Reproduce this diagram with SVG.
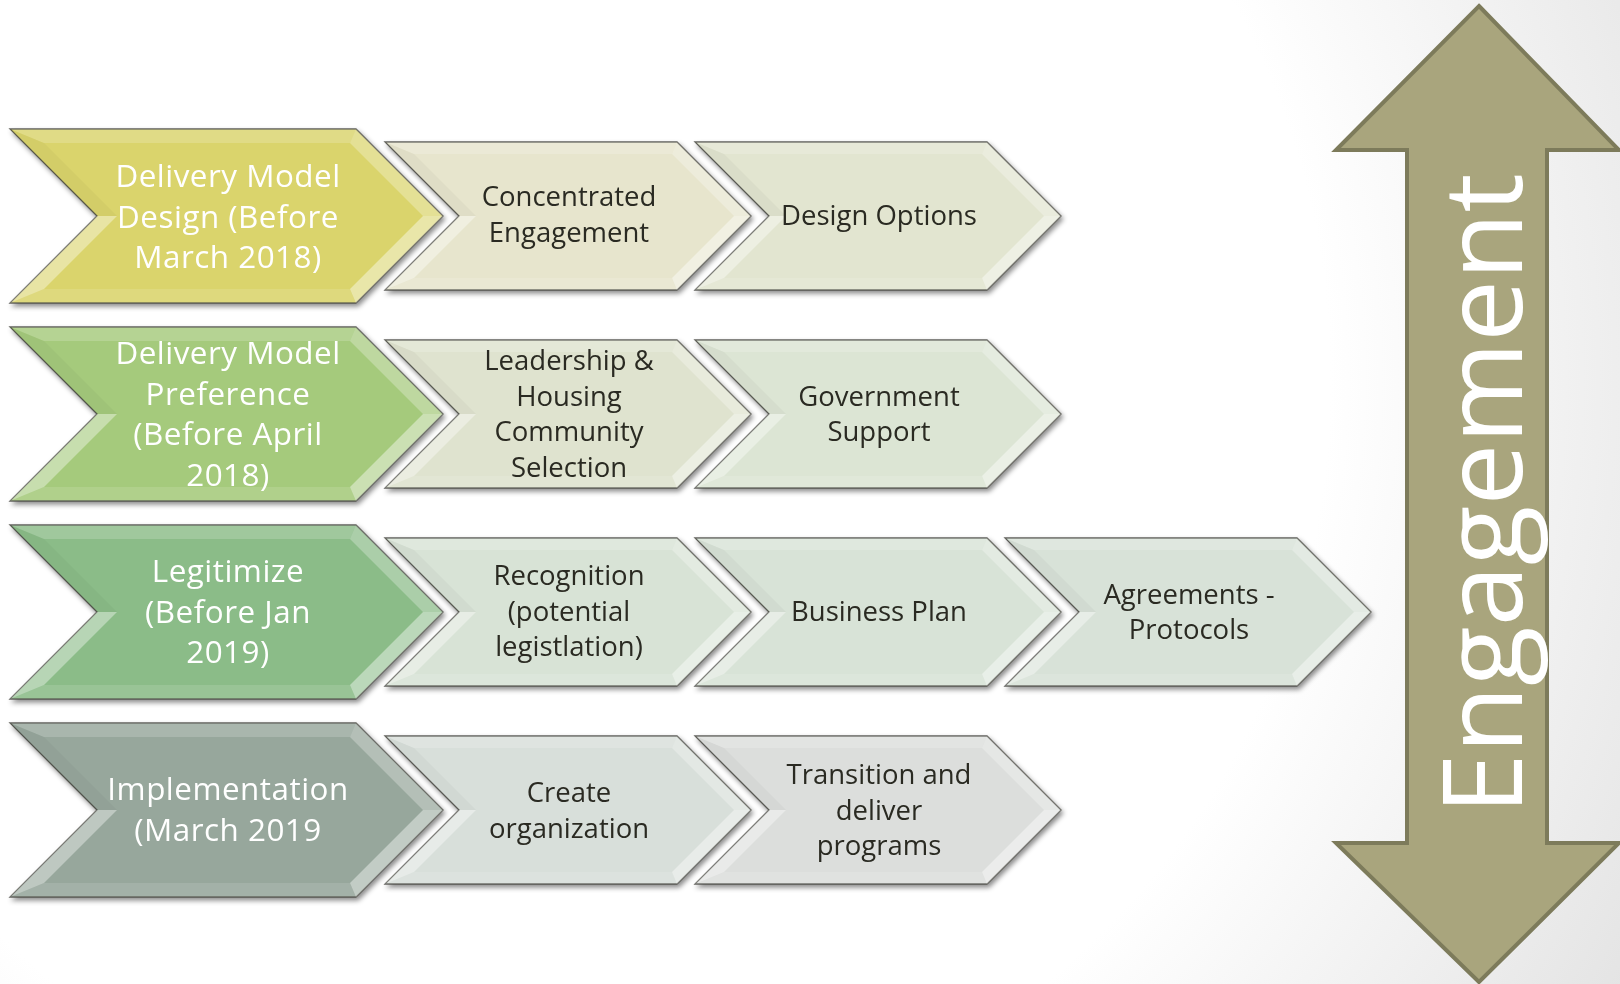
<svg xmlns="http://www.w3.org/2000/svg" xmlns:xlink="http://www.w3.org/1999/xlink" width="1620" height="984" viewBox="0 0 1620 984">
<style>
.lt{font-family:"Open Sans","Liberation Sans",sans-serif;font-size:31.4px;letter-spacing:0.5px;fill:#ffffff;text-anchor:middle}
.st{font-family:"Open Sans","Liberation Sans",sans-serif;font-size:27.5px;fill:#2a2a22;text-anchor:middle}
.et{font-family:"Open Sans","Liberation Sans",sans-serif;font-size:110px;fill:#ffffff;text-anchor:middle}
.base{stroke:#3e3e38;stroke-opacity:.8;stroke-width:1.3}
.ftop{fill:#ffffff;fill-opacity:.18}
.fur{fill:#ffffff;fill-opacity:.28}
.flr{fill:#ffffff;fill-opacity:.42}
.fbot{fill:#ffffff;fill-opacity:.12}
.fll{fill:#ffffff;fill-opacity:.38}
.ful{fill:#000000;fill-opacity:.03}
.chev{filter:url(#sh)}
</style>
<defs>
<radialGradient id="bg" cx="550" cy="380" r="1300" gradientUnits="userSpaceOnUse">
<stop offset="0.6" stop-color="#ffffff"/>
<stop offset="1" stop-color="#e0e0e0"/>
</radialGradient>
<filter id="sh" x="-5%" y="-10%" width="115%" height="125%">
<feDropShadow dx="2" dy="3" stdDeviation="2.5" flood-color="#000" flood-opacity="0.45"/>
</filter>
<g id="chevL">
<polygon class="base" points="0,0 346,0 433,87 346,174 0,174 87,87"/>
<polygon class="ftop" points="0,0 346,0 340,14 34,14"/>
<polygon class="fur" points="346,0 433,87 413,87 340,14"/>
<polygon class="flr" points="433,87 346,174 340,160 413,87"/>
<polygon class="fbot" points="346,174 0,174 34,160 340,160"/>
<polygon class="fll" points="0,174 87,87 107,87 34,160"/>
<polygon class="ful" points="87,87 0,0 34,14 107,87"/>
</g>
<g id="chevS">
<polygon class="base" points="0,0 292,0 366,74 292,148 0,148 74,74"/>
<polygon class="ftop" points="0,0 292,0 287,12 29,12"/>
<polygon class="fur" points="292,0 366,74 349,74 287,12"/>
<polygon class="flr" points="366,74 292,148 287,136 349,74"/>
<polygon class="fbot" points="292,148 0,148 29,136 287,136"/>
<polygon class="fll" points="0,148 74,74 91,74 29,136"/>
<polygon class="ful" points="74,74 0,0 29,12 91,74"/>
</g>
</defs>
<rect width="1620" height="984" fill="url(#bg)"/>

<g id="connectors"></g>

<g id="engagement-arrow">
<polygon points="1479,6 1619,150 1547,150 1547,843 1619,843 1479,982 1336,843 1407,843 1407,150 1336,150" fill="#a9a57d" stroke="#7d7b5b" stroke-width="4" stroke-linejoin="miter"/>
<text class="et" transform="translate(1522,494) rotate(-90)">Engagement</text>
</g>

<!-- Row 1 -->
<g id="stage-design" class="chev">
<use xlink:href="#chevL" href="#chevL" x="10" y="129" fill="#dad46c"/>
<text class="lt" x="228" y="187"><tspan x="228">Delivery Model</tspan><tspan x="228" dy="40.5">Design (Before</tspan><tspan x="228" dy="40.5">March 2018)</tspan></text>
</g>
<g id="concentrated-engagement" class="chev">
<use xlink:href="#chevS" href="#chevS" x="385" y="142" fill="#e7e5cd"/>
<text class="st" x="569" y="206"><tspan x="569">Concentrated</tspan><tspan x="569" dy="36">Engagement</tspan></text>
</g>
<g id="design-options" class="chev">
<use xlink:href="#chevS" href="#chevS" x="695" y="142" fill="#e2e5d0"/>
<text class="st" x="879" y="225">Design Options</text>
</g>

<!-- Row 2 -->
<g id="stage-preference" class="chev">
<use xlink:href="#chevL" href="#chevL" x="10" y="327" fill="#a5ca7c"/>
<text class="lt" x="228" y="364"><tspan x="228">Delivery Model</tspan><tspan x="228" dy="40.5">Preference</tspan><tspan x="228" dy="40.5">(Before April</tspan><tspan x="228" dy="40.5">2018)</tspan></text>
</g>
<g id="leadership-housing" class="chev">
<use xlink:href="#chevS" href="#chevS" x="385" y="340" fill="#dfe3cf"/>
<text class="st" x="569" y="370"><tspan x="569">Leadership &amp;</tspan><tspan x="569" dy="35.5">Housing</tspan><tspan x="569" dy="35.5">Community</tspan><tspan x="569" dy="35.5">Selection</tspan></text>
</g>
<g id="government-support" class="chev">
<use xlink:href="#chevS" href="#chevS" x="695" y="340" fill="#dce5d4"/>
<text class="st" x="879" y="406"><tspan x="879">Government</tspan><tspan x="879" dy="35">Support</tspan></text>
</g>

<!-- Row 3 -->
<g id="stage-legitimize" class="chev">
<use xlink:href="#chevL" href="#chevL" x="10" y="525" fill="#8bbc88"/>
<text class="lt" x="228" y="582"><tspan x="228">Legitimize</tspan><tspan x="228" dy="40.5">(Before Jan</tspan><tspan x="228" dy="40.5">2019)</tspan></text>
</g>
<g id="recognition" class="chev">
<use xlink:href="#chevS" href="#chevS" x="385" y="538" fill="#d8e3d6"/>
<text class="st" x="569" y="585"><tspan x="569">Recognition</tspan><tspan x="569" dy="35.5">(potential</tspan><tspan x="569" dy="35.5">legistlation)</tspan></text>
</g>
<g id="business-plan" class="chev">
<use xlink:href="#chevS" href="#chevS" x="695" y="538" fill="#d8e3d7"/>
<text class="st" x="879" y="621">Business Plan</text>
</g>
<g id="agreements-protocols" class="chev">
<use xlink:href="#chevS" href="#chevS" x="1005" y="538" fill="#d8e2d8"/>
<text class="st" x="1189" y="604"><tspan x="1189">Agreements -</tspan><tspan x="1189" dy="35">Protocols</tspan></text>
</g>

<!-- Row 4 -->
<g id="stage-implementation" class="chev">
<use xlink:href="#chevL" href="#chevL" x="10" y="723" fill="#97a79c"/>
<text class="lt" x="228" y="800"><tspan x="228">Implementation</tspan><tspan x="228" dy="40.5">(March 2019</tspan></text>
</g>
<g id="create-organization" class="chev">
<use xlink:href="#chevS" href="#chevS" x="385" y="736" fill="#d8dfda"/>
<text class="st" x="569" y="802"><tspan x="569">Create</tspan><tspan x="569" dy="35.5">organization</tspan></text>
</g>
<g id="transition-deliver" class="chev">
<use xlink:href="#chevS" href="#chevS" x="695" y="736" fill="#dcdedc"/>
<text class="st" x="879" y="784"><tspan x="879">Transition and</tspan><tspan x="879" dy="35.5">deliver</tspan><tspan x="879" dy="35.5">programs</tspan></text>
</g>
</svg>
